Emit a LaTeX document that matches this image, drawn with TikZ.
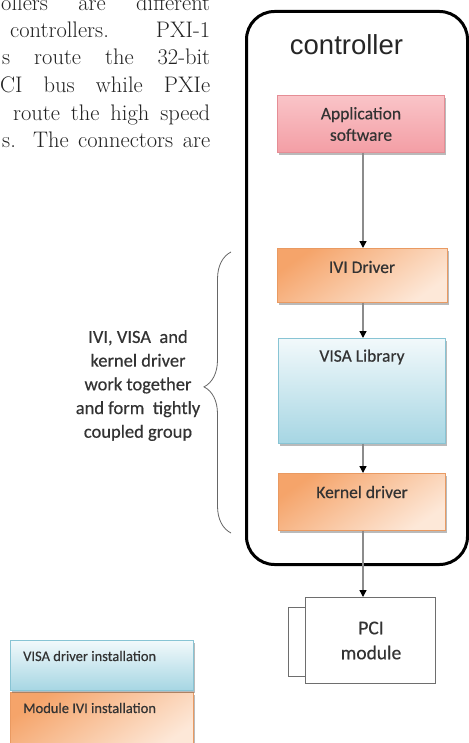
\documentclass[tikz,border=0pt]{standalone}
\usepackage{fontspec}
\usetikzlibrary{arrows.meta,shadows,decorations.pathreplacing}
\newfontfamily\carl{Carlito}[FakeBold=0.4]
\newfontfamily\lsans{Liberation Sans}
\definecolor{txt}{HTML}{222222}
\definecolor{lbl}{HTML}{333333}
\definecolor{orD}{HTML}{F5A46A}
\definecolor{orL}{HTML}{FDE8D8}
\definecolor{orB}{HTML}{E99A62}
\definecolor{blT}{HTML}{F2F9FB}
\definecolor{blB}{HTML}{A6D6E3}
\definecolor{blE}{HTML}{88C4D4}
\definecolor{pkT}{HTML}{FAC4C8}
\definecolor{pkB}{HTML}{F39EA5}
\definecolor{pkE}{HTML}{E58D95}
\definecolor{lineG}{HTML}{8C8C8C}
\definecolor{modE}{HTML}{6E6E6E}
\newcommand\paltxt{\addfontfeatures{FakeBold=0.35}\fontsize{22.5}{27}\selectfont}
\tikzset{
  shbox/.style={drop shadow={shadow xshift=1.5pt,shadow yshift=-2.5pt,opacity=.45,fill=black!60}},
  orbox/.style={shbox, draw=orB, line width=.6pt, top color=orD, bottom color=orL, shading angle=35, inner sep=0pt},
  blbox/.style={shbox, draw=blE, line width=.6pt, top color=blT, bottom color=blB, inner sep=0pt},
  pkbox/.style={shbox, draw=pkE, line width=.6pt, top color=pkT, bottom color=pkB, inner sep=0pt},
  boxlbl/.style={font=\carl\fontsize{17.5}{21.5}\selectfont, text=lbl, inner sep=0pt, align=center},
  leglbl/.style={font=\carl\fontsize{14.5}{17}\selectfont, text=lbl, inner sep=0pt, anchor=west},
  paraline/.style={anchor=base west, inner sep=0pt, text=txt, font=\paltxt},
  arr/.style={draw=lineG, line width=1.4pt, -{Triangle[length=7pt,width=7pt,color=black,fill=black]}},
}
\begin{document}
\begin{tikzpicture}[x=1pt,y=-1pt]
\useasboundingbox (0,0) rectangle (468,743);
\fill[white] (0,0) rectangle (468,743);

% cut paragraph at top left
\node[paraline] (p1) at (1,11)    {\makebox[209pt][s]{ollers are different}};
\node[paraline] (p2) at (10,37.5) {\makebox[200pt][s]{controllers. PXI-1}};
\node[paraline] (p3) at (2,65)    {\makebox[208pt][s]{s route the 32-bit}};
\node[paraline] (p4) at (0,93)    {\makebox[210pt][s]{CI bus while PXIe}};
\node[paraline] (p5) at (13,121)  {\makebox[197pt][s]{route the high speed}};
\node[paraline] (p6) at (2,148)   {\makebox[208pt][s]{s. The connectors are}};

% controller frame
\node[draw=black, line width=3pt, rounded corners=28pt, minimum width=221pt, minimum height=553pt,
      anchor=north west, inner sep=0pt] (ctrl) at (245,10) {};
\node[anchor=base, inner sep=0pt, font=\lsans\fontsize{27.5}{30}\selectfont, text=black!85] (ctrltxt) at (346.5,55) {controller};

% boxes
\node[pkbox, anchor=north, minimum width=167pt, minimum height=57pt] (app) at (361,95) {};
\node[boxlbl] (apptxt) at (361,124) {Application\\software};

\node[orbox, anchor=north, minimum width=170pt, minimum height=54pt] (ivi) at (362,248) {};
\node[boxlbl] (ivitxt) at ([yshift=-19pt]ivi.north) {IVI Driver};

\node[blbox, anchor=north, minimum width=167pt, minimum height=105pt] (visa) at (362,338) {};
\node[boxlbl] (visatxt) at ([yshift=-19pt]visa.north) {VISA Library};

\node[orbox, anchor=north, minimum width=167pt, minimum height=57pt] (kern) at (362,473) {};
\node[boxlbl] (kerntxt) at ([yshift=-19pt]kern.north) {Kernel driver};

% PCI module
\node[draw=modE, line width=.8pt, fill=white, anchor=north west, minimum width=17pt, minimum height=69pt, inner sep=0pt] (tab) at (288,607) {};
\node[draw=modE, line width=.8pt, fill=white, anchor=north west, minimum width=130pt, minimum height=86pt, inner sep=0pt] (pci) at (305,597) {};
\node[font=\carl\fontsize{19.5}{25}\selectfont, text=lbl, align=center, inner sep=0pt] (pcitxt) at (371,640.5) {PCI\\module};

% arrows
\draw[arr] (app.south -| 363,0) -- (ivi.north -| 363,0);
\draw[arr] (ivi.south -| 363,0) -- (visa.north -| 363,0);
\draw[arr] (visa.south -| 363,0) -- (kern.north -| 363,0);
\draw[arr] (kern.south -| 363,0) -- (pci.north -| 363,0);

% brace and its label
\coordinate (brb) at (231,533);
\coordinate (brt) at (231,252);
\draw[draw=black!60, line width=.8pt, decorate, decoration={brace, amplitude=27pt, aspect=0.52}] (brb) -- (brt);
\node[font=\carl\fontsize{18.5}{23.7}\selectfont, text=lbl, align=center, inner sep=0pt] (grp) at (138,385.5)
  {IVI, VISA\ \ and\\kernel driver\\work together\\and form\ \ tightly\\coupled group};

% legend
\node[orbox, anchor=north west, minimum width=183pt, minimum height=58pt] (legor) at (10,692) {};
\node[blbox, anchor=north west, minimum width=183pt, minimum height=50pt] (legbl) at (10,640) {};
\node[leglbl] (legbltxt) at (23,656) {VISA driver installation};
\node[leglbl] (legortxt) at (23,708) {Module IVI installation};
\end{tikzpicture}
\end{document}
